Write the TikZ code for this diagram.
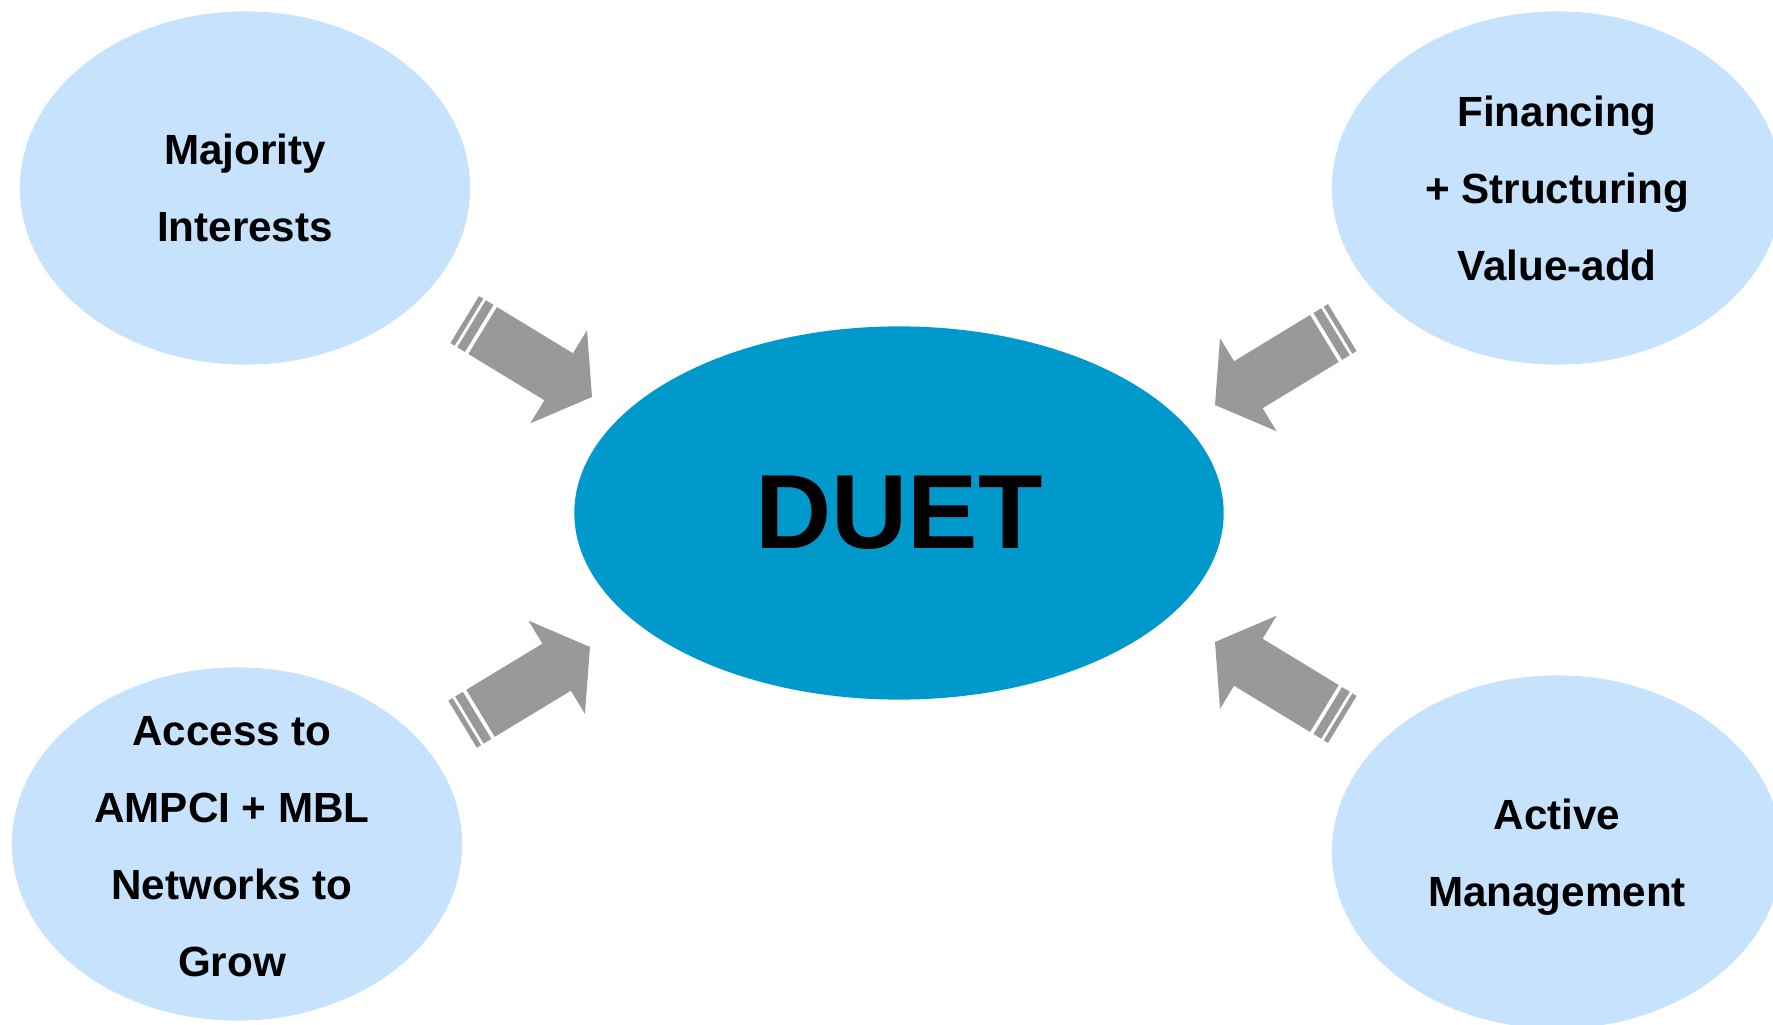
\documentclass[tikz,border=0pt]{standalone}
\usepackage{fontspec}
\setmainfont{Liberation Sans}
\usetikzlibrary{shapes.geometric}

\definecolor{bubbleblue}{HTML}{C6E2FC}
\definecolor{duetblue}{HTML}{0099CC}
\definecolor{arrowgray}{HTML}{999999}

\tikzset{
	bubble/.style={ellipse, fill=bubbleblue, minimum width=4.5cm, minimum height=3.53cm, inner sep=0pt},
	bubbletext/.style={align=center, font=\fontsize{12}{21.9}\selectfont\bfseries},
}

\begin{document}
\begin{tikzpicture}[x=0.01cm, y=0.01cm]
			\useasboundingbox (0,0) rectangle (1773,1024);
			\clip (0,0) rectangle (1773,1024);

			% centre
			\node[ellipse, fill=duetblue, minimum width=6.49cm, minimum height=3.73cm, inner sep=0pt,
				font=\fontsize{30}{36}\selectfont\bfseries] (duet) at (899,511) {DUET};

			% the four bubbles
			\node[bubble] (maj) at (245,836) {};
			\node[bubble] (fin) at (1557,836) {};
			\node[bubble] (acc) at (237,180) {};
			\node[bubble] (act) at (1557,172) {};

			\node[bubbletext] (majtext) at (maj) {Majority\\Interests};
			\node[bubbletext] (fintext) at (fin) {Financing\\+ Structuring\\Value-add};
			\node[bubbletext] (acctext) at (232,177) {Access to\\AMPCI + MBL\\Networks to\\Grow};
			\node[bubbletext] (acttext) at (1557,167) {Active\\Management};

			% striped arrows, tip at (\x,\y)
			\foreach \i/\x/\y/\a in {1/592/627/-31.3, 2/1215/619/211.3, 3/590/377/31.2, 4/1215/382/148.7} {
			\begin{scope}[shift={(\x,\y)}, rotate=\a]
			\fill[arrowgray] (0,0) -- (-39,54.5) -- (-39,27.5) -- (-128,27.5)
				-- (-128,-27.5) -- (-39,-27.5) -- (-39,-54.5) -- cycle; % head + shaft
			\fill[arrowgray] (-132,-27.5) rectangle (-141,27.5); % wide stripe
			\fill[arrowgray] (-144,-27.5) rectangle (-149,27.5); % thin stripe
			\end{scope} }
\end{tikzpicture}
\end{document}
